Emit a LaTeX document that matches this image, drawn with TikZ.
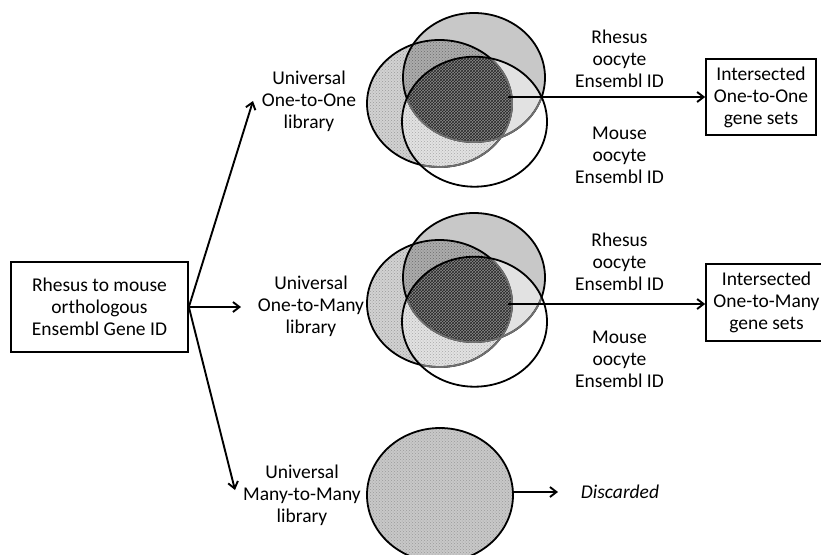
\documentclass[tikz,border=0pt]{standalone}
\usepackage{fontspec}
\setmainfont{Carlito}
\usetikzlibrary{arrows.meta,patterns}
\definecolor{cA}{HTML}{D2D2D2}
\definecolor{cAd}{HTML}{9A9A9A}
\definecolor{cB}{HTML}{C8C8C8}
\definecolor{cAB}{HTML}{ACACAC}
\definecolor{cAC}{HTML}{E2E2E2}
\definecolor{cBC}{HTML}{E2E2E2}
\definecolor{cABC}{HTML}{8A8A8A}
\definecolor{cEdge}{HTML}{707070}
\newcommand\vennfig[1]{%
\begin{scope}[shift={(0,#1)}]
  \fill[cA] (439.5,103.5) ellipse [x radius=72.5pt,y radius=63.5pt];
  \fill[pattern=crosshatch dots,pattern color=cAd] (439.5,103.5) ellipse [x radius=72.5pt,y radius=63.5pt];
  \fill[cB] (474,77.5) ellipse [x radius=71pt,y radius=64.5pt];
  \begin{scope}
    \clip (439.5,103.5) ellipse [x radius=72.5pt,y radius=63.5pt];
    \fill[cAB] (474,77.5) ellipse [x radius=71pt,y radius=64.5pt];
    \fill[pattern=crosshatch dots,pattern color=cAd!70!black] (474,77.5) ellipse [x radius=71pt,y radius=64.5pt];
  \end{scope}
  \begin{scope}
    \clip (474.5,121.7) ellipse [x radius=72.5pt,y radius=65pt];
    \fill[cAC] (439.5,103.5) ellipse [x radius=72.5pt,y radius=63.5pt];
    \fill[pattern=crosshatch dots,pattern color=cA!80!black] (439.5,103.5) ellipse [x radius=72.5pt,y radius=63.5pt];
    \fill[cBC] (474,77.5) ellipse [x radius=71pt,y radius=64.5pt];
    \begin{scope}
      \clip (439.5,103.5) ellipse [x radius=72.5pt,y radius=63.5pt];
      \fill[cABC] (474,77.5) ellipse [x radius=71pt,y radius=64.5pt];
      \fill[pattern=crosshatch,pattern color=black!85] (474,77.5) ellipse [x radius=71pt,y radius=64.5pt];
    \end{scope}
  \end{scope}
  \draw[vline] (439.5,103.5) ellipse [x radius=72.5pt,y radius=63.5pt];
  \draw[vline] (474,77.5) ellipse [x radius=71pt,y radius=64.5pt];
  \begin{scope}
    \clip (474.5,121.7) ellipse [x radius=72.5pt,y radius=65pt];
    \draw[vline,cEdge] (439.5,103.5) ellipse [x radius=72.5pt,y radius=63.5pt];
    \draw[vline,cEdge] (474,77.5) ellipse [x radius=71pt,y radius=64.5pt];
  \end{scope}
  \draw[vline] (474.5,121.7) ellipse [x radius=72.5pt,y radius=65pt];
\end{scope}}
\begin{document}
\begin{tikzpicture}[x=1pt,y=-1pt,
  lbl/.style={align=center,font=\fontsize{19.5}{22}\selectfont,inner sep=0pt},
  boxnode/.style={draw,line width=1.7pt,align=center,font=\fontsize{19.5}{22}\selectfont,inner sep=0pt},
  arr/.style={line width=1.9pt,-{Straight Barb[length=6.5pt,width=10pt,line width=1.9pt]}},
  vline/.style={line width=1.8pt}]
\useasboundingbox (0,0) rectangle (821,554);

% Venn diagrams
\vennfig{0}
\vennfig{200}

% Many-to-many circle
\fill[cB] (440,495) ellipse [x radius=73pt,y radius=67pt];
\fill[pattern=crosshatch dots,pattern color=cAd] (440,495) ellipse [x radius=73pt,y radius=67pt];
\draw[vline] (440,495) ellipse [x radius=73pt,y radius=67pt];

% Nodes
\node[boxnode,minimum width=177pt,minimum height=90pt] (src) at (99.5,307) {Rhesus to mouse\\orthologous\\Ensembl Gene ID};
\node[lbl] (u1) at (309,101) {Universal\\One-to-One\\library};
\node[lbl] (u2) at (311,306) {Universal\\One-to-Many\\library};
\node[lbl] (u3) at (302,495) {Universal\\Many-to-Many\\library};

\node[lbl] (r1) at (619.5,59) {Rhesus\\oocyte\\Ensembl ID};
\node[lbl] (m1) at (619.5,155) {Mouse\\oocyte\\Ensembl ID};
\node[lbl] (r2) at (619.5,262) {Rhesus\\oocyte\\Ensembl ID};
\node[lbl] (m2) at (619.5,359) {Mouse\\oocyte\\Ensembl ID};

\node[boxnode,minimum width=110pt,minimum height=76pt] (b1) at (761,97) {Intersected\\One-to-One\\gene sets};
\node[boxnode,minimum width=121pt,minimum height=77pt] (b2) at (766.5,302.5) {Intersected\\One-to-Many\\gene sets};

\node[lbl,font=\fontsize{19.5}{22}\selectfont\itshape] (disc) at (620,492) {Discarded};

% Connectors
\coordinate (t1) at (253,101);
\coordinate (t2) at (241,307);
\coordinate (t3) at (235,490);
\draw[arr] (src.east) -- (t1);
\draw[arr] (src.east) -- (t2);
\draw[arr] (src.east) -- (t3);

\coordinate (v1) at (508,97);
\coordinate (v2) at (508,304);
\draw[arr] (v1) -- (b1.west |- v1);
\draw[arr] (v2) -- (b2.west |- v2);

\coordinate (c3) at (513,492);
\coordinate (d3) at (558,492);
\draw[arr] (c3) -- (d3);
\end{tikzpicture}
\end{document}
